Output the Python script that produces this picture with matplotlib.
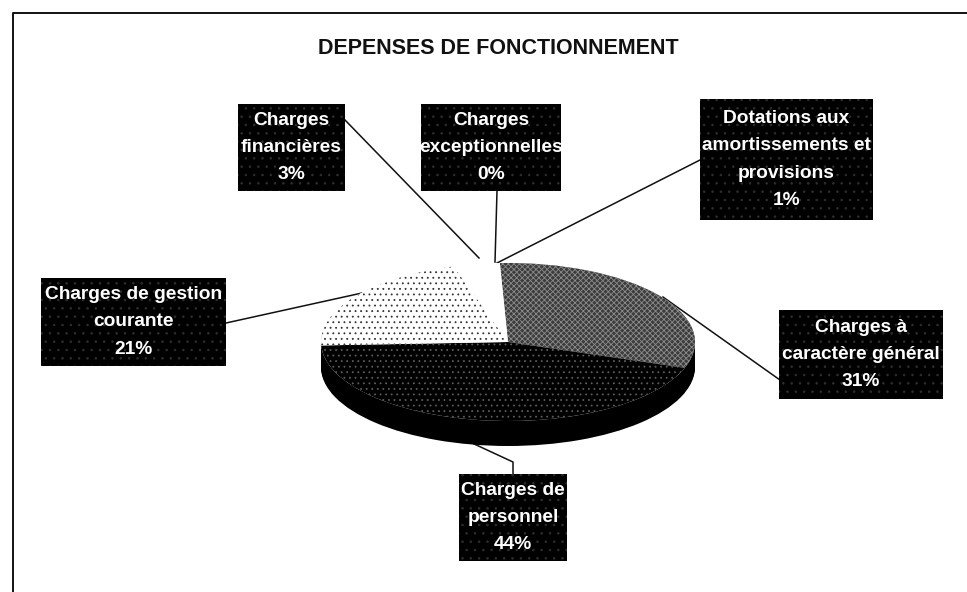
import matplotlib
matplotlib.use('Agg')
import matplotlib.pyplot as plt

# values, clockwise from the top
categories = ['Charges à\ncaractère général', 'Charges de\npersonnel', 'Charges de gestion\ncourante',
              'Charges\nfinancières', 'Charges\nexceptionnelles',
              'Dotations aux\namortissements et\nprovisions']
values = [31, 44, 21, 3, 0, 1]
title = 'DEPENSES DE FONCTIONNEMENT'

W, H = 967, 592
plt.rcParams['font.family'] = ['Liberation Sans', 'DejaVu Sans']
plt.rcParams['hatch.linewidth'] = 0.6

fig = plt.figure(figsize=(W / 100, H / 100), dpi=100, facecolor='white')

# background axes in pixel coordinates for frame, leaders and labels
bg = fig.add_axes([0, 0, 1, 1], zorder=1)
bg.set_xlim(0, W)
bg.set_ylim(H, 0)
bg.axis('off')
bg.plot([13, 13, W], [H, 13, 13], color='#111111', lw=1.4)
bg.text(498, 48, title, ha='center', va='center', fontsize=15.5, fontweight='bold', color='#111111')

# squashed axes so the unit pie becomes the ellipse
px0, px1, py0, py1 = 321, 695, 263, 421
pie_ax = fig.add_axes([px0 / W, 1 - py1 / H, (px1 - px0) / W, (py1 - py0) / H], zorder=2)
pie_ax.patch.set_alpha(0)

start = 92.5
# side of the pie, stacked black layers below the top face
for d in range(1, 26):
    pie_ax.pie([1], center=(0, -d * 2 / (py1 - py0)), colors=['black'], wedgeprops={'linewidth': 0})
pie_ax.pie([1], colors=['white'], wedgeprops={'linewidth': 0})

wedges, _ = pie_ax.pie(values, startangle=start, counterclock=False, colors=['white'] * len(values),
                       wedgeprops={'linewidth': 0})
wedges[0].set(facecolor='#3c3c3c', edgecolor='#8c8c8c', hatch='xxxxxx', linewidth=0)
wedges[1].set(facecolor='black', edgecolor='#5c5c5c', hatch='...', linewidth=0)
wedges[2].set(facecolor='white', edgecolor='#333333', hatch='...', linewidth=0)
pie_ax.set_aspect('auto')
pie_ax.set_xlim(-1, 1)
pie_ax.set_ylim(-1, 1)

# leader lines
leaders = [
    [(663, 297), (780, 380)],
    [(513, 474), (513, 462), (472, 443)],
    [(226, 323), (362, 293)],
    [(345, 120), (479, 258)],
    [(497, 191), (495, 262)],
    [(700, 160), (497, 263)],
]
for pts in leaders:
    bg.plot([p[0] for p in pts], [p[1] for p in pts], color='#111111', lw=1.1)

# label boxes (left, top, right, bottom)
boxes = [(779, 310, 943, 399), (459, 474, 567, 561), (41, 278, 226, 366),
         (238, 104, 345, 191), (421, 104, 561, 191), (700, 99, 873, 220)]
top = fig.add_axes([0, 0, 1, 1], zorder=3)
top.set_xlim(0, W)
top.set_ylim(H, 0)
top.axis('off')
for cat, val, (x0, y0, x1, y1) in zip(categories, values, boxes):
    top.add_patch(plt.Rectangle((x0, y0), x1 - x0, y1 - y0, facecolor='black', edgecolor='#2e2e2e',
                                hatch='..', linewidth=0))
    top.text((x0 + x1) / 2, (y0 + y1) / 2, f'{cat}\n{val}%', ha='center', va='center',
             color='white', fontsize=13.8, fontweight='bold', linespacing=1.78)

fig.savefig('out.png', dpi=100)
